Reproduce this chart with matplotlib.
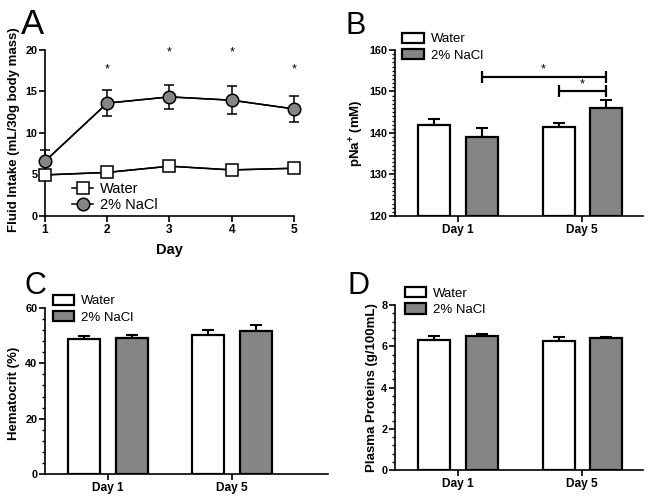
import numpy as np
import matplotlib.pyplot as plt
from matplotlib.ticker import MultipleLocator

plt.rcParams['font.family'] = ['Liberation Sans', 'DejaVu Sans']
plt.rcParams['mathtext.fontset'] = 'custom'
plt.rcParams['mathtext.bf'] = 'Liberation Sans:bold'
plt.rcParams['mathtext.rm'] = 'Liberation Sans'

# Panel A - fluid intake por dia
dias = np.array([1, 2, 3, 4, 5])
agua_A = np.array([4.95, 5.25, 6.0, 5.55, 5.75])
agua_A_err = np.array([0.25, 0.25, 0.3, 0.25, 0.25])
nacl_A = np.array([6.6, 13.6, 14.35, 13.95, 12.9])
nacl_A_err = np.array([1.35, 1.6, 1.45, 1.7, 1.55])
sig_A = [2, 3, 4, 5]
sig_A_y = [17.6, 19.7, 19.7, 17.6]

# Paneles de barras
grupos = ['Day 1', 'Day 5']
agua_B = [142.0, 141.5]
agua_B_err = [1.4, 0.9]
nacl_B = [139.0, 146.0]
nacl_B_err = [2.1, 2.0]

agua_C = [48.8, 50.1]
agua_C_err = [1.0, 2.1]
nacl_C = [49.0, 51.8]
nacl_C_err = [1.1, 1.9]

agua_D = [6.29, 6.26]
agua_D_err = [0.21, 0.2]
nacl_D = [6.51, 6.38]
nacl_D_err = [0.1, 0.08]

gris = '#858585'
fs_ytick = 7.8
fs_xtick = 8.6
fs_leg = 9.5
fs_ylab = 9.5

fig = plt.figure(figsize=(6.54, 5.03), dpi=100)


def estilo(ax):
    for s in ['top', 'right']:
        ax.spines[s].set_visible(False)
    for s in ['left', 'bottom']:
        ax.spines[s].set_linewidth(1.2)
    ax.tick_params(which='major', direction='out', length=4, width=1.2, pad=1.5)
    ax.tick_params(axis='y', labelsize=fs_ytick)
    ax.tick_params(axis='x', labelsize=fs_xtick)
    ax.tick_params(which='minor', direction='out', length=2.2, width=1.0)
    for lab in ax.get_xticklabels() + ax.get_yticklabels():
        lab.set_fontweight('bold')


def barras(ax, agua, agua_err, nacl, nacl_err, ylim, mayor, menor, xmax):
    x = np.arange(len(grupos))
    w = 0.258
    d = 0.19
    ax.bar(x - d, np.array(agua) - ylim[0], w, bottom=ylim[0], color='white',
           edgecolor='black', linewidth=1.6, label='Water', zorder=3)
    ax.bar(x + d, np.array(nacl) - ylim[0], w, bottom=ylim[0], color=gris,
           edgecolor='black', linewidth=1.6, label='2% NaCl', zorder=3)
    ax.errorbar(x - d, agua, yerr=[np.zeros(2), agua_err], fmt='none',
                ecolor='black', elinewidth=1.5, capsize=4.5, capthick=1.5, zorder=2)
    ax.errorbar(x + d, nacl, yerr=[np.zeros(2), nacl_err], fmt='none',
                ecolor='black', elinewidth=1.5, capsize=4.5, capthick=1.5, zorder=2)
    ax.set_xlim(-0.508, xmax)
    ax.set_ylim(*ylim)
    ax.set_xticks(x)
    ax.set_xticklabels(grupos)
    ax.yaxis.set_major_locator(MultipleLocator(mayor))
    ax.yaxis.set_minor_locator(MultipleLocator(menor))
    estilo(ax)


def leyenda(ax, bx, by):
    ax.legend(loc='upper left', bbox_to_anchor=(bx, by), frameon=False,
              fontsize=fs_leg, handlelength=1.6, handleheight=0.8,
              handletextpad=0.55, labelspacing=0.3, borderpad=0, borderaxespad=0)


# ---------------- A ----------------
axA = fig.add_axes([0.0688, 0.5706, 0.3807, 0.33])
axA.errorbar(dias, agua_A, yerr=agua_A_err, color='black', lw=1.1,
             capsize=3.5, capthick=1.1, elinewidth=1.1, zorder=2, clip_on=False)
axA.errorbar(dias, nacl_A, yerr=nacl_A_err, color='black', lw=1.1,
             capsize=3.5, capthick=1.1, elinewidth=1.1, zorder=2, clip_on=False)
axA.plot(dias, agua_A, 's-', color='black', mfc='white', mec='black', ms=8.5,
         mew=1.1, lw=1.1, label='Water', zorder=4, clip_on=False)
axA.plot(dias, nacl_A, 'o-', color='black', mfc=gris, mec='black', ms=9,
         mew=1.1, lw=1.1, label='2% NaCl', zorder=4, clip_on=False)
for d, yy in zip(sig_A, sig_A_y):
    axA.text(d, yy, '*', ha='center', va='center', fontsize=9)
axA.set_xlim(1, 5)
axA.set_ylim(0, 20)
axA.set_xticks(dias)
axA.yaxis.set_major_locator(MultipleLocator(5))
axA.set_xlabel('Day', fontsize=10.5, fontweight='bold', labelpad=5)
estilo(axA)
axA.legend(loc='upper left', bbox_to_anchor=(0.11, 0.205), frameon=False,
           fontsize=10.5, handlelength=1.4, handletextpad=0.5,
           labelspacing=0.12, borderpad=0, borderaxespad=0)

# ---------------- B ----------------
axB = fig.add_axes([0.604, 0.5706, 0.379, 0.33])
barras(axB, agua_B, agua_B_err, nacl_B, nacl_B_err, (120, 160), 10, 1, 1.49)
axB.errorbar([0.19 + 0.5], [153.5], xerr=[0.5], fmt='none', ecolor='black',
             elinewidth=1.6, capsize=4, capthick=1.6)
axB.errorbar([0.81 + 0.19], [150.1], xerr=[0.19], fmt='none', ecolor='black',
             elinewidth=1.6, capsize=4, capthick=1.6)
axB.text(0.69, 155.3, '*', ha='center', va='center', fontsize=9)
axB.text(1.0, 151.8, '*', ha='center', va='center', fontsize=9)
leyenda(axB, 0.03, 1.105)

# ---------------- C ----------------
axC = fig.add_axes([0.0688, 0.0577, 0.4327, 0.33])
barras(axC, agua_C, agua_C_err, nacl_C, nacl_C_err, (0, 60), 20, 4, 1.774)
leyenda(axC, 0.028, 1.08)

# ---------------- D ----------------
axD = fig.add_axes([0.604, 0.0656, 0.379, 0.328])
barras(axD, agua_D, agua_D_err, nacl_D, nacl_D_err, (0, 8), 2, 0.4, 1.49)
leyenda(axD, 0.04, 1.11)

# etiquetas de los ejes y
W, H = 654, 503
fig.text(14 / W, 1 - 130 / H, 'Fluid Intake (mL/30g body mass)', rotation=90,
         ha='center', va='center', fontsize=fs_ylab, fontweight='bold')
fig.text(357 / W, 1 - 133 / H, r'pNa$^{\mathbf{+}}$ (mM)', rotation=90,
         ha='center', va='center', fontsize=fs_ylab, fontweight='bold')
fig.text(14 / W, 1 - 393 / H, 'Hematocrit (%)', rotation=90,
         ha='center', va='center', fontsize=fs_ylab, fontweight='bold')
fig.text(372 / W, 1 - 388 / H, 'Plasma Proteins (g/100mL)', rotation=90,
         ha='center', va='center', fontsize=fs_ylab, fontweight='bold')

# letras de panel
fig.text(21 / W, 1 - 8 / H, 'A', fontsize=25, ha='left', va='top')
fig.text(346 / W, 1 - 11 / H, 'B', fontsize=22, ha='left', va='top')
fig.text(24 / W, 1 - 271 / H, 'C', fontsize=22, ha='left', va='top')
fig.text(347 / W, 1 - 271 / H, 'D', fontsize=22, ha='left', va='top')

fig.savefig('out.png', dpi=100)
